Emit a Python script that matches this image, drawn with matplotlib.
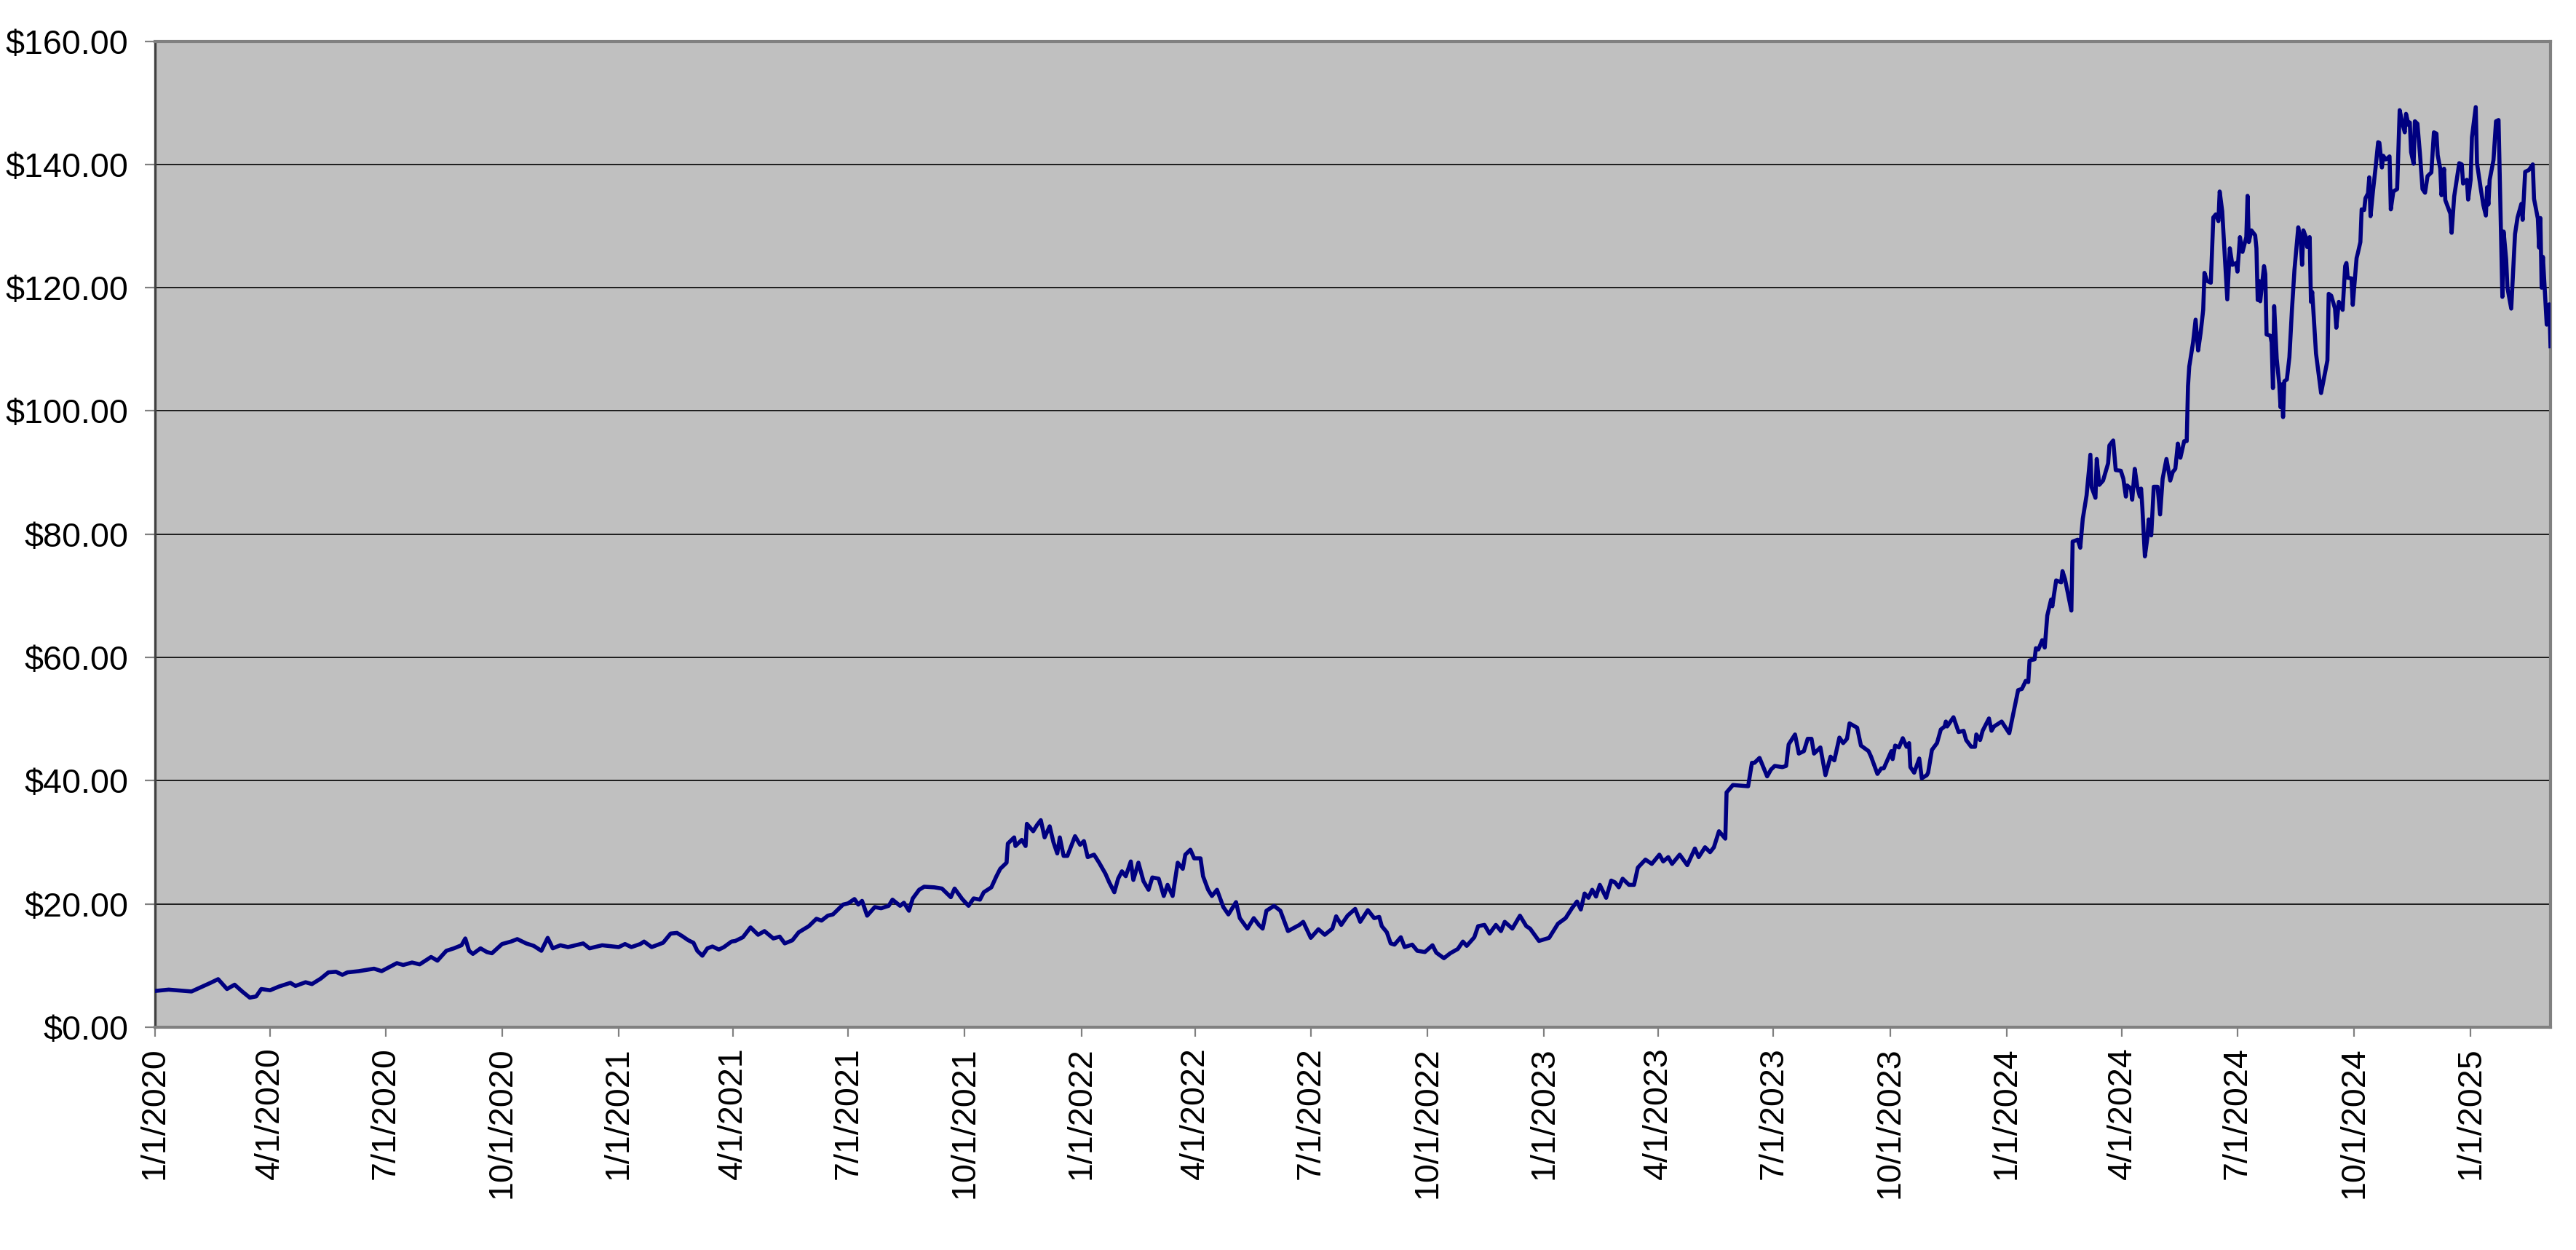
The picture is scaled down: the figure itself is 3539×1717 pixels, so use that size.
import numpy as np
import pandas as pd
import matplotlib
matplotlib.use("Agg")
import matplotlib.pyplot as plt
from matplotlib.ticker import FuncFormatter

# ---- data: closing price, dates given as days counted from 1 Jan 2020 ----
days_2020 = [1, 11, 29, 44, 50, 57, 63, 69, 75, 80, 84, 91, 98, 107, 111, 119, 124, 131, 137, 143,
             148, 152, 161, 173, 179, 191, 196, 203, 209, 218, 223, 230, 236, 242, 245, 248, 251, 257, 262, 266,
             274, 281, 286, 293, 299, 305, 310, 314, 320, 326, 338, 343, 353]
price_2020 = [5.9, 6.1, 5.8, 7.2, 7.8, 6.2, 6.9, 5.8, 4.8, 5.0, 6.2, 6.0, 6.6, 7.2, 6.7, 7.3, 7.0, 7.9, 8.9, 9.0,
              8.5, 8.9, 9.1, 9.5, 9.1, 10.4, 10.1, 10.5, 10.2, 11.4, 10.8, 12.4, 12.8, 13.3, 14.4, 12.4, 11.9, 12.8, 12.2, 12.0,
              13.5, 13.9, 14.3, 13.6, 13.2, 12.4, 14.5, 12.8, 13.3, 13.0, 13.6, 12.8, 13.3]

days_2021 = [366, 371, 376, 383, 386, 392, 401, 407, 412, 416, 421, 425, 428, 432, 436, 440, 445, 449, 455, 458,
             464, 470, 476, 481, 488, 493, 497, 503, 508, 516, 522, 526, 531, 535, 543, 547, 552, 555, 558, 562,
             568, 573, 579, 582, 588, 591, 595, 598, 603, 607, 615, 621, 628, 631, 637, 642, 646, 651, 654, 660,
             664, 667, 672, 673, 678, 679, 684, 687, 688, 693, 696, 699, 702, 706, 709, 712, 714, 717, 720, 726,
             730]
price_2021 = [13.0, 13.5, 13.0, 13.5, 13.9, 13.0, 13.7, 15.2, 15.3, 14.8, 14.1, 13.7, 12.4, 11.6, 12.8, 13.1, 12.6, 13.0, 13.9, 14.0,
              14.6, 16.2, 15.0, 15.6, 14.4, 14.7, 13.6, 14.1, 15.4, 16.4, 17.6, 17.3, 18.1, 18.3, 19.9, 20.1, 20.8, 19.9, 20.5, 18.1,
              19.5, 19.3, 19.7, 20.7, 19.7, 20.2, 18.9, 20.9, 22.3, 22.8, 22.7, 22.5, 21.1, 22.5, 20.8, 19.7, 20.9, 20.7, 21.9, 22.7,
              24.5, 25.7, 26.7, 29.8, 30.8, 29.4, 30.4, 29.4, 33.0, 31.8, 32.8, 33.6, 30.8, 32.6, 30.0, 28.2, 30.8, 27.8, 27.8, 31.0,
              29.6]

days_2022 = [733, 736, 741, 745, 750, 753, 757, 760, 763, 766, 770, 772, 776, 780, 784, 787, 792, 796, 799, 803,
             807, 811, 813, 817, 820, 825, 827, 831, 834, 838, 843, 847, 853, 856, 862, 867, 871, 874, 877, 883,
             888, 894, 903, 906, 912, 918, 923, 929, 932, 936, 941, 947, 951, 957, 962, 966, 968, 972, 975, 978,
             983, 986, 992, 996, 1002, 1008, 1011, 1017, 1022, 1028, 1032, 1035, 1041, 1044, 1049, 1053, 1058, 1062, 1065, 1071,
             1077, 1082, 1085, 1092]
price_2022 = [30.2, 27.6, 28.0, 26.7, 24.9, 23.5, 21.9, 24.1, 25.3, 24.5, 26.9, 23.9, 26.7, 23.7, 22.3, 24.3, 24.1, 21.3, 23.1, 21.3,
              26.7, 25.7, 28.0, 28.8, 27.4, 27.4, 24.5, 22.3, 21.3, 22.3, 19.5, 18.3, 20.3, 17.7, 16.0, 17.7, 16.6, 16.0, 18.9, 19.7,
              18.9, 15.6, 16.6, 17.1, 14.5, 15.9, 15.0, 16.0, 18.0, 16.6, 18.1, 19.2, 17.1, 19.0, 17.7, 17.9, 16.4, 15.4, 13.6, 13.4,
              14.6, 13.0, 13.4, 12.4, 12.2, 13.3, 12.1, 11.2, 12.0, 12.7, 13.9, 13.2, 14.6, 16.4, 16.6, 15.2, 16.6, 15.6, 17.1, 16.0,
              18.1, 16.4, 16.0, 14.0]

days_2023 = [1100, 1107, 1113, 1118, 1122, 1125, 1128, 1131, 1134, 1137, 1140, 1145, 1149, 1152, 1155, 1158, 1163, 1167, 1170, 1176,
             1181, 1187, 1190, 1194, 1197, 1203, 1209, 1215, 1218, 1223, 1227, 1230, 1234, 1239, 1240, 1245, 1257, 1260, 1262, 1266,
             1272, 1275, 1278, 1284, 1287, 1289, 1294, 1297, 1301, 1304, 1307, 1309, 1314, 1318, 1322, 1325, 1329, 1332, 1335, 1337,
             1343, 1346, 1352, 1354, 1359, 1362, 1364, 1370, 1371, 1373, 1376, 1379, 1382, 1384, 1385, 1388, 1392, 1394, 1398, 1399,
             1402, 1406, 1409, 1412, 1413, 1414, 1419, 1423, 1427, 1429, 1433, 1436, 1437, 1440, 1442, 1447, 1449, 1451, 1457]
price_2023 = [14.5, 16.8, 17.7, 19.3, 20.4, 19.1, 21.7, 21.0, 22.3, 21.2, 23.1, 21.0, 23.8, 23.5, 22.7, 24.1, 23.1, 23.1, 25.9, 27.2,
              26.5, 28.0, 26.9, 27.6, 26.5, 28.0, 26.3, 29.0, 27.6, 29.2, 28.4, 29.2, 31.8, 30.6, 38.1, 39.3, 39.1, 42.9, 42.9, 43.7,
              40.7, 41.8, 42.4, 42.2, 42.4, 45.9, 47.5, 44.4, 44.8, 46.8, 46.8, 44.4, 45.4, 40.9, 43.9, 43.3, 47.0, 46.1, 46.8, 49.3,
              48.6, 45.7, 44.8, 43.9, 41.1, 42.0, 42.0, 44.8, 43.5, 45.7, 45.4, 46.9, 45.5, 46.1, 42.2, 41.3, 43.6, 40.4, 40.9, 41.3,
              45.0, 46.1, 48.3, 48.8, 49.6, 48.8, 50.3, 47.9, 48.1, 46.6, 45.5, 45.5, 47.5, 46.6, 48.1, 50.1, 48.1, 48.8, 49.6]

days_2024 = [1463, 1470, 1473, 1476, 1478, 1479, 1483, 1484, 1486, 1489, 1491, 1493, 1496, 1497, 1498, 1500, 1504, 1505, 1507, 1510,
             1512, 1513, 1517, 1519, 1521, 1524, 1527, 1528, 1531, 1532, 1534, 1537, 1541, 1542, 1545, 1547, 1551, 1553, 1555, 1556,
             1559, 1560, 1562, 1564, 1566, 1567, 1568, 1570, 1572, 1573, 1575, 1577, 1580, 1582, 1584, 1587, 1590, 1592, 1594, 1596,
             1598, 1601, 1603, 1604, 1605, 1608, 1610, 1612, 1614, 1616, 1617, 1619, 1622, 1624, 1626, 1628, 1629, 1631, 1635, 1637,
             1639, 1642, 1643, 1645, 1647, 1650, 1651, 1652, 1654, 1657, 1658, 1659, 1660, 1661, 1664, 1665, 1666, 1669, 1670, 1671,
             1672, 1674, 1676, 1677, 1678, 1679, 1680, 1682, 1684, 1686, 1688, 1691, 1693, 1694, 1695, 1697, 1698, 1700, 1701, 1702,
             1705, 1707, 1709, 1714, 1715, 1717, 1720, 1721, 1723, 1726, 1728, 1729, 1730, 1733, 1734, 1737, 1738, 1740, 1741, 1743,
             1744, 1746, 1747, 1748, 1750, 1752, 1754, 1755, 1757, 1758, 1760, 1762, 1763, 1764, 1766, 1769, 1771, 1773, 1775, 1776,
             1778, 1779, 1780, 1782, 1783, 1785, 1787, 1789, 1791, 1793, 1796, 1798, 1800, 1801, 1803, 1804, 1806, 1807, 1811, 1812,
             1814, 1818, 1820, 1821, 1824, 1825]
price_2024 = [47.7, 54.7, 54.9, 56.2, 56.0, 59.5, 59.7, 61.5, 61.3, 62.8, 61.6, 66.8, 69.4, 68.3, 69.8, 72.5, 72.2, 74.0, 72.7, 69.6,
              67.6, 78.8, 79.1, 77.8, 82.5, 86.3, 92.9, 87.6, 85.9, 92.2, 88.0, 88.7, 91.5, 94.4, 95.2, 90.4, 90.3, 89.0, 86.1, 87.9,
              87.4, 85.6, 90.6, 87.7, 86.1, 87.4, 84.3, 76.4, 79.5, 82.4, 79.8, 87.7, 87.7, 83.2, 89.0, 92.2, 88.7, 90.1, 90.6, 94.7,
              92.4, 95.1, 95.1, 104.0, 107.2, 111.1, 114.8, 109.8, 112.7, 116.4, 122.4, 121.1, 120.8, 131.4, 131.9, 130.8, 135.6, 132.4, 118.1, 126.4,
              123.7, 124.0, 122.6, 128.2, 125.8, 128.2, 134.9, 127.4, 129.3, 128.5, 126.4, 118.0, 121.1, 117.8, 123.5, 122.2, 112.4, 112.2, 111.1, 103.7,
              117.0, 108.5, 104.3, 100.6, 104.3, 99.0, 104.8, 105.1, 108.7, 116.4, 122.9, 129.8, 127.4, 123.7, 129.3, 128.2, 126.6, 128.2, 117.7, 119.3,
              109.3, 106.1, 102.9, 108.2, 119.0, 118.7, 116.6, 113.5, 117.7, 116.4, 123.5, 124.0, 121.6, 121.5, 117.2, 124.8, 125.6, 127.4, 132.7, 132.6,
              134.5, 135.3, 137.9, 131.6, 135.8, 139.5, 143.6, 143.5, 139.5, 141.4, 140.8, 141.1, 141.3, 132.7, 135.6, 136.0, 148.8, 146.8, 145.2, 148.2,
              146.4, 146.8, 142.0, 140.1, 147.0, 146.6, 141.7, 136.0, 135.4, 138.1, 138.7, 145.2, 145.0, 141.5, 139.3, 135.0, 139.3, 134.2, 132.0, 128.9,
              134.8, 140.2, 140.0, 136.9, 137.5, 134.3]

days_2025 = [1827, 1828, 1830, 1831, 1832, 1835, 1837, 1839, 1840, 1841, 1842, 1845, 1847, 1849, 1852, 1853, 1855, 1856, 1859, 1862,
             1864, 1867, 1868, 1870, 1873, 1876, 1877, 1880, 1881, 1882, 1883, 1884, 1887, 1889, 1890]
price_2025 = [137.5, 144.4, 147.7, 149.3, 140.2, 136.0, 133.4, 131.7, 136.3, 133.5, 137.5, 140.7, 147.0, 147.2, 118.5, 129.1, 124.6, 120.0, 116.6, 128.7,
              131.4, 133.6, 131.0, 138.8, 139.1, 140.0, 134.4, 131.2, 126.5, 131.3, 120.0, 125.0, 114.0, 117.3, 110.5]

y_ticks = [0, 20, 40, 60, 80, 100, 120, 140, 160]

# ---- build series ----
start = pd.Timestamp("2020-01-01")
days = np.concatenate([days_2020, days_2021, days_2022, days_2023, days_2024, days_2025])
prices = np.concatenate([price_2020, price_2021, price_2022, price_2023, price_2024, price_2025])
dates = start + pd.to_timedelta(days, unit="D")

tick_dates = pd.date_range("2020-01-01", "2025-01-01", freq="QS")
tick_labels = [f"{d.month}/{d.day}/{d.year}" for d in tick_dates]

plt.rcParams["font.family"] = ["Liberation Sans", "DejaVu Sans"]

W, H, DPI = 3539, 1717, 200
fig = plt.figure(figsize=(W / DPI, H / DPI), dpi=DPI)
fig.patch.set_facecolor("white")
ax = fig.add_axes([0.06007, 0.17822, 0.93004, 0.78887])
ax.set_facecolor("#C0C0C0")

ax.plot(dates, prices, color="#000080", lw=2.0, solid_joinstyle="round", zorder=3)

ax.set_xlim(start, dates[-1])
ax.set_ylim(0, 160)
ax.set_yticks(y_ticks)
ax.yaxis.set_major_formatter(FuncFormatter(lambda v, p: f"${v:.2f}"))
ax.set_xticks(tick_dates)
ax.set_xticklabels(tick_labels, rotation=90)

ax.grid(axis="y", color="black", lw=0.6, zorder=1)
ax.grid(axis="x", visible=False)
ax.set_axisbelow(True)

for side in ["top", "right", "bottom"]:
    ax.spines[side].set_color("#808080")
    ax.spines[side].set_linewidth(1.5)
ax.spines["left"].set_color("#404040")
ax.spines["left"].set_linewidth(1.2)

ax.tick_params(axis="y", direction="out", length=5, width=0.8, color="#808080",
               labelsize=16.8, pad=8, labelcolor="black")
ax.tick_params(axis="x", direction="out", length=4.7, width=0.8, color="#808080",
               labelsize=16.8, pad=5, labelcolor="black")

fig.savefig("out.png", dpi=DPI, facecolor="white")
